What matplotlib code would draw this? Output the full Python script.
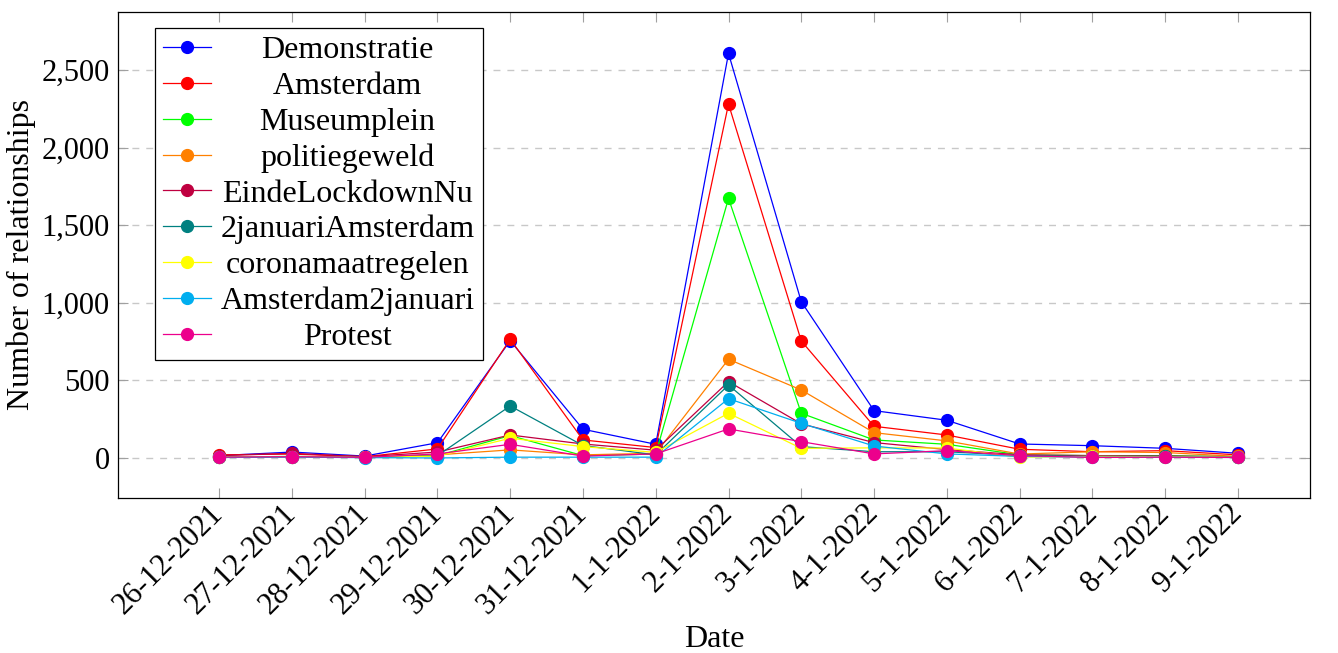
import numpy as np
import matplotlib.pyplot as plt
from matplotlib.ticker import FuncFormatter

dates = ["26-12-2021", "27-12-2021", "28-12-2021", "29-12-2021", "30-12-2021",
         "31-12-2021", "1-1-2022", "2-1-2022", "3-1-2022", "4-1-2022",
         "5-1-2022", "6-1-2022", "7-1-2022", "8-1-2022", "9-1-2022"]

demonstratie = [15, 38, 12, 98, 756, 185, 88, 2607, 1007, 305, 243, 90, 79, 62, 30]
amsterdam = [20, 25, 8, 58, 765, 116, 67, 2281, 754, 204, 148, 56, 40, 47, 20]
museumplein = [5, 10, 5, 15, 144, 15, 25, 1673, 288, 116, 88, 20, 15, 15, 8]
politiegeweld = [5, 8, 3, 20, 52, 20, 30, 636, 438, 163, 110, 25, 40, 35, 10]
eindelockdownnu = [15, 30, 8, 38, 148, 90, 50, 492, 220, 99, 54, 20, 15, 12, 8]
januari_amsterdam = [5, 8, 3, 15, 335, 80, 20, 470, 73, 40, 40, 15, 10, 10, 5]
coronamaatregelen = [5, 8, 3, 12, 127, 73, 36, 288, 62, 65, 64, 5, 10, 8, 5]
amsterdam_januari = [3, 5, 2, 0, 5, 5, 5, 382, 223, 77, 26, 10, 5, 5, 3]
protest = [5, 8, 4, 26, 88, 12, 26, 187, 105, 26, 47, 15, 3, 5, 3]

series = [
    ("Demonstratie", demonstratie, "#0000ff"),
    ("Amsterdam", amsterdam, "#ff0000"),
    ("Museumplein", museumplein, "#00ff00"),
    ("politiegeweld", politiegeweld, "#ff8000"),
    ("EindeLockdownNu", eindelockdownnu, "#bf0040"),
    ("2januariAmsterdam", januari_amsterdam, "#008080"),
    ("coronamaatregelen", coronamaatregelen, "#ffff00"),
    ("Amsterdam2januari", amsterdam_januari, "#00aeef"),
    ("Protest", protest, "#ec008c"),
]

plt.rcParams['font.family'] = ['Liberation Serif', 'DejaVu Serif']

fig = plt.figure(figsize=(13.38, 6.53), dpi=100)
ax = fig.add_axes([0.0882, 0.2374, 0.8908, 0.7442])

x = np.arange(len(dates))
for name, vals, col in series:
    ax.plot(x, vals, color=col, lw=0.9, marker='o', ms=8.5, label=name)

ax.set_xlim(-1.39, 14.99)
ax.set_ylim(-258, 2874)
ax.set_xticks(x)
ax.set_xticklabels(dates, rotation=45, ha='right', va='center',
                   rotation_mode='anchor', fontsize=22)
ax.set_yticks([0, 500, 1000, 1500, 2000, 2500])
ax.yaxis.set_major_formatter(FuncFormatter(lambda v, p: f"{int(v):,}"))
ax.tick_params(axis='y', labelsize=22, pad=6)
ax.tick_params(axis='x', pad=8)
ax.tick_params(direction='in', top=True, right=True, length=7, width=0.8, color='#a0a0a0')
ax.grid(axis='y', color='#c8c8c8', ls=(0, (5, 5)), lw=1)
ax.set_axisbelow(True)
for s in ax.spines.values():
    s.set_linewidth(0.9)

ax.set_xlabel("Date", fontsize=23, va='top')
ax.xaxis.set_label_coords(0.5, -0.262)
ax.set_ylabel("Number of relationships", fontsize=23)
ax.yaxis.set_label_coords(-0.069, 0.5)

leg = ax.legend(loc='upper left', bbox_to_anchor=(0.031, 0.967), fontsize=23,
                frameon=True, fancybox=False, edgecolor='black', framealpha=1,
                handlelength=1.5, handletextpad=0.3, labelspacing=0.2,
                borderpad=0.25, borderaxespad=0)
leg.get_frame().set_linewidth(0.9)

# center the legend entries inside the box
fig.canvas.draw()
r = fig.canvas.get_renderer()
widths = [t.get_window_extent(r).width for t in leg.get_texts()]
wmax = max(widths)
for t, w in zip(leg.get_texts(), widths):
    t.set_position(((wmax - w) / 2, 0))

fig.savefig("out.png", dpi=100)
